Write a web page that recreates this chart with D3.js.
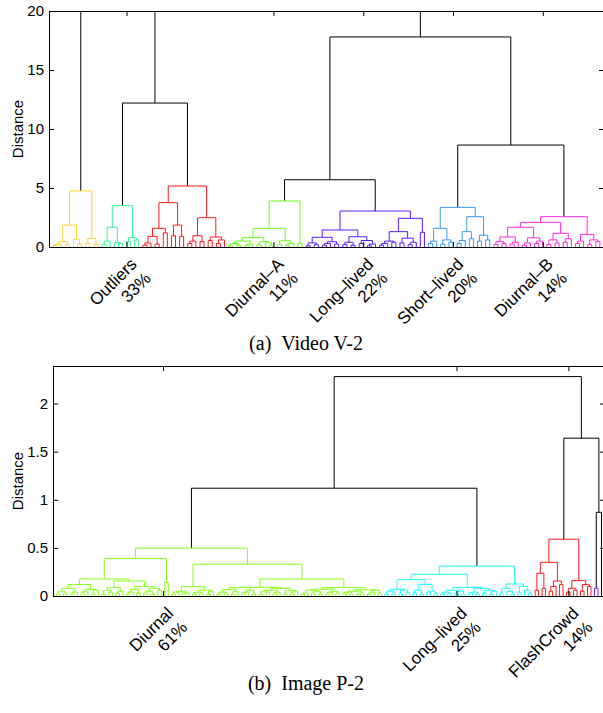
<!DOCTYPE html>
<html><head><meta charset="utf-8">
<script src="https://cdn.jsdelivr.net/npm/d3@7"></script>
<style>body{margin:0;background:#fff}svg{display:block}</style>
</head><body>
<svg id="chart" width="603" height="713"></svg>
<script>
// ---------------- DATA ----------------
// (a) Video V-2
const topCategories = ["Outliers", "Diurnal\u2013A", "Long\u2013lived", "Short\u2013lived", "Diurnal\u2013B"];
const topShares = ["33%", "11%", "22%", "20%", "14%"];
const topLabelLeaf = [19, 55, 77, 99, 121];
const topYTicks = [0, 5, 10, 15, 20];
const topYMax = 20;
// cluster sub-trees: "(left,right)height", x = leaf
const topYellow = `(((((x,x)0.12,x)0.22,(x,x)0.18)0.45,(x,(x,x)0.25)0.66)1.86,
  ((x,x)0.3,(x,x)0.22)0.73)4.75`;
const topTeal = `((((x,x)0.2,x)0.5,(x,(x,x)0.3)0.38)1.67,((x,x)0.45,(x,x)0.6)0.79)3.5`;
const topRed = `((((((x,x)0.15,x)0.35,(x,x)0.25)0.9,(x,x)1.2)1.58,((x,x)0.95,(x,x)0.9)1.86)3.76,
  ((((x,x)0.3,x)0.5,(x,x)0.45)0.96,((x,x)0.55,((x,x)0.3,x)0.6)0.85)2.48)5.17`;
const topGreen = `((((((x,x)0.1,(x,x)0.15)0.3,((x,x)0.12,x)0.25)0.5,((x,x)0.2,(x,(x,x)0.15)0.35)0.45)0.79,
  ((x,x)0.25,((x,x)0.15,x)0.3)0.53)1.58,(x,x)0.3)3.9`;
const topPurple = `((
   (((x,x)0.1,(x,x)0.2)0.35,(((x,x)0.15,x)0.3,(x,x)0.25)0.45)0.82,
   (((x,x)0.2,(x,x)0.15)0.4,((x,x)0.3,((x,x)0.1,x)0.25)0.55)0.87
  )1.44,
  ((
   (((x,x)0.15,x)0.3,(x,x)0.4)0.5,
   ((x,x)0.35,((x,x)0.2,x)0.4)0.75
  )1.3,(x,x)1.24)2.43
 )3.05`;
const topBlue = `((((x,x)0.3,x)0.5,((x,x)0.25,(x,x)0.4)0.6)1.58,
  ((((x,x)0.3,x)0.55,(x,x)0.7)1.3,((x,x)0.5,(x,x)0.6)1.0)2.57)3.36`;
const topMagenta = `((
   ((((x,x)0.2,(x,x)0.3)0.45,((x,x)0.25,x)0.4)0.85,
    (((x,x)0.15,x)0.35,((x,x)0.3,x)0.5)0.78)1.67,
   (((x,x)0.2,(x,x)0.35)0.6,((x,x)0.4,x)0.7)1.16
  )2.09,
  (((x,x)0.3,x)0.5,((x,x)0.2,(x,x)0.45)0.6)1.07
 )2.57`;
// upper merges (letters = clusters above)
const topSkeleton = `(Y,((T,R)12.2,((G,P)5.7,(B,M)8.64)17.8)23)27`;

// (b) Image P-2
const botCategories = ["Diurnal", "Long\u2013lived", "FlashCrowd"];
const botShares = ["61%", "25%", "14%"];
const botLabelLeaf = [31.5, 115.5, 147.5];
const botYTicks = [0, 0.5, 1, 1.5, 2];
const botYMax = 2.39;
const botGreen = `((
   (
    ((((x,x)0.02,(x,x)0.03)0.05,((x,x)0.02,x)0.04)0.08,(((x,x)0.03,x)0.05,((x,x)0.02,x)0.06)0.07)0.12,
    ((((x,x)0.02,(x,x)0.04)0.06,((x,x)0.03,x)0.05)0.09,
     ((((x,x)0.02,x)0.04,(x,x)0.03)0.07,(((x,x)0.03,(x,x)0.02)0.05,(x,x)0.06)0.08)0.1)0.156
   )0.177,
   (x,x)0.14
  )0.39,
  (
   ((((x,x)0.02,x)0.04,((x,x)0.03,x)0.03)0.05,(((x,x)0.02,(x,x)0.03)0.04,((x,x)0.02,x)0.05)0.06)0.097,
   (
    (((((x,x)0.02,(x,x)0.03)0.04,((x,x)0.02,x)0.05)0.07,(((x,x)0.03,x)0.04,(x,x)0.02)0.06)0.087,
     ((((x,x)0.02,(x,x)0.04)0.05,((x,x)0.03,x)0.04)0.06,((x,x)0.02,((x,x)0.03,x)0.05)0.06)0.08)0.09,
    (((((x,x)0.02,x)0.03,((x,x)0.03,(x,x)0.02)0.05)0.06,(((x,x)0.02,x)0.04,(x,x)0.03)0.05)0.07,
     ((((x,x)0.03,(x,x)0.02)0.04,((x,x)0.02,x)0.03)0.05,(((x,x)0.02,x)0.04,(x,x)0.03)0.06)0.065)0.087
   )0.177
  )0.33
 )0.497`;
const botCyan = `((
   ((((x,x)0.02,(x,x)0.03)0.05,((x,x)0.02,(x,x)0.04)0.06)0.07,
    (((x,x)0.03,(x,x)0.02)0.06,((x,x)0.04,(x,x)0.03)0.05)0.12)0.17,
   ((((x,x)0.02,(x,x)0.03)0.04,((x,x)0.03,(x,x)0.02)0.05)0.06,
    (((x,x)0.03,(x,x)0.02)0.04,((x,x)0.03,((x,x)0.02,x)0.05)0.06)0.08)0.09
  )0.226,
  (((x,x)0.03,(x,(x,x)0.02)0.05)0.08,((x,x)0.04,(x,(x,x)0.03)0.06)0.1)0.125
 )0.31`;
const botRed = `((((x,x)0.06,(x,x)0.08)0.236,(((x,x)0.05,x)0.1,(x,x)0.12)0.156)0.35,
  (((x,x)0.04,(x,x)0.06)0.08,((x,x)0.05,(x,x)0.1)0.12)0.16)0.59`;
const botViolet = `(x,x)0.08`;
const botSkeleton = `((G,C)1.12,(F,(V,x)0.87)1.64)2.28`;

// ---------------- STYLE ----------------
const topColors = {Y: "#ffd633", T: "#33f59c", R: "#ff1a1a", G: "#6cff1a", P: "#5c1aff", B: "#3399ff", M: "#ff29dc"};
const botColors = {G: "#88ff1a", C: "#1affff", F: "#ff1a1a", V: "#8c1aff"};
const sansFont = "'Liberation Sans', Arial, Helvetica, sans-serif";
const serifFont = "'Liberation Serif', 'Times New Roman', serif";

// ---------------- PARSE ----------------
function parseTree(str, refs) {
  const s = str.replace(/\s+/g, "");
  let i = 0;
  function node() {
    if (i >= s.length) throw new Error("unbalanced tree string");
    const c = s[i];
    if (c === "x") { i++; return {h: 0}; }
    if (/[A-Z]/.test(c)) { i++; return refs[c]; }
    i++; // (
    const a = node();
    i++; // ,
    const b = node();
    i++; // )
    const j = i;
    while (i < s.length && /[0-9.]/.test(s[i])) i++;
    return {h: +s.slice(j, i), children: [a, b]};
  }
  return node();
}
function colorize(n, col) {
  if (n.children) { n.color = col; n.children.forEach(c => colorize(c, col)); }
  return n;
}

const svg = d3.select("#chart");

function drawPanel(cfg) {
  const {root, nLeaves, left, right, top, bottom, yMax, yTicks, labelLeaf, cats, shares, ylabX, caption, capY, id} = cfg;
  const x = d3.scaleLinear().domain([0, nLeaves + 1]).range([left, right]);
  const y = d3.scaleLinear().domain([0, yMax]).range([bottom, top]);

  svg.append("defs").append("clipPath").attr("id", id)
    .append("rect").attr("x", left).attr("y", top).attr("width", right - left).attr("height", bottom - top);

  const h = d3.hierarchy(root);
  h.leaves().forEach((d, i) => { d.px = x(i + 1); });
  h.eachAfter(d => { if (d.children) d.px = (d.children[0].px + d.children[1].px) / 2; });

  const g = svg.append("g").attr("clip-path", `url(#${id})`);
  g.selectAll("path").data(h.descendants().filter(d => d.children)).join("path")
    .attr("d", d => {
      const [a, b] = d.children;
      return `M${a.px},${y(a.data.h)}V${y(d.data.h)}H${b.px}V${y(b.data.h)}`;
    })
    .attr("fill", "none")
    .attr("stroke", d => d.data.color || "#000")
    .attr("stroke-width", 1);

  // axes
  const styleAxis = sel => {
    sel.select(".domain").remove();
    sel.selectAll("text").attr("font-family", sansFont).attr("font-size", 15).attr("fill", "#000");
    sel.selectAll("line").attr("stroke", "#000");
  };
  svg.append("g").attr("transform", `translate(${left},0)`)
    .call(d3.axisLeft(y).tickValues(yTicks).tickSizeInner(-5).tickSizeOuter(0).tickPadding(5)
      .tickFormat(d => String(d)))
    .call(styleAxis);
  svg.append("g").attr("transform", `translate(${right},0)`)
    .call(d3.axisRight(y).tickValues(yTicks).tickSizeInner(-5).tickSizeOuter(0).tickFormat(""))
    .call(styleAxis);
  svg.append("g").attr("transform", `translate(0,${top})`)
    .call(d3.axisTop(x).tickValues(labelLeaf).tickSizeInner(-5).tickSizeOuter(0).tickFormat(""))
    .call(styleAxis);
  svg.append("g").attr("transform", `translate(0,${bottom})`)
    .call(d3.axisBottom(x).tickValues(labelLeaf).tickSizeInner(-5).tickSizeOuter(0).tickFormat(""))
    .call(styleAxis);

  svg.append("rect").attr("x", left + 0.5).attr("y", top + 0.5)
    .attr("width", right - left).attr("height", bottom - top)
    .attr("fill", "none").attr("stroke", "#000").attr("stroke-width", 1);

  // y label
  svg.append("text")
    .attr("transform", `translate(${ylabX},${(top + bottom) / 2}) rotate(-90)`)
    .attr("text-anchor", "middle").attr("font-family", sansFont).attr("font-size", 15)
    .text("Distance");

  // category labels
  const lab = svg.append("g").selectAll("text").data(cats).join("text")
    .attr("transform", (d, i) => `translate(${x(labelLeaf[i])},${bottom + 7}) rotate(-45)`)
    .attr("text-anchor", "end").attr("font-family", sansFont).attr("font-size", 17);
  lab.append("tspan").attr("x", 0).attr("y", 16).text(d => d);
  lab.append("tspan").attr("x", 0).attr("y", 36).text((d, i) => shares[i]);

  svg.append("text").attr("x", 306).attr("y", capY).attr("text-anchor", "middle")
    .attr("font-family", serifFont).attr("font-size", 20).text(caption);
}

// build trees
const topRefs = {
  Y: colorize(parseTree(topYellow), topColors.Y),
  T: colorize(parseTree(topTeal), topColors.T),
  R: colorize(parseTree(topRed), topColors.R),
  G: colorize(parseTree(topGreen), topColors.G),
  P: colorize(parseTree(topPurple), topColors.P),
  B: colorize(parseTree(topBlue), topColors.B),
  M: colorize(parseTree(topMagenta), topColors.M)
};
const topRoot = parseTree(topSkeleton, topRefs);
const botRefs = {
  G: colorize(parseTree(botGreen), botColors.G),
  C: colorize(parseTree(botCyan), botColors.C),
  F: colorize(parseTree(botRed), botColors.F),
  V: colorize(parseTree(botViolet), botColors.V)
};
const botRoot = parseTree(botSkeleton, botRefs);

const countLeaves = n => n.children ? countLeaves(n.children[0]) + countLeaves(n.children[1]) : 1;

drawPanel({root: topRoot, nLeaves: countLeaves(topRoot), left: 49, right: 604, top: 11, bottom: 247,
  yMax: topYMax, yTicks: topYTicks, labelLeaf: topLabelLeaf, cats: topCategories, shares: topShares,
  ylabX: 23, caption: "(a)\u2002Video V-2", capY: 350, id: "clipA"});
drawPanel({root: botRoot, nLeaves: countLeaves(botRoot), left: 53, right: 605, top: 366, bottom: 596,
  yMax: botYMax, yTicks: botYTicks, labelLeaf: botLabelLeaf, cats: botCategories, shares: botShares,
  ylabX: 23, caption: "(b)\u2002Image P-2", capY: 690, id: "clipB"});
</script>
</body></html>
